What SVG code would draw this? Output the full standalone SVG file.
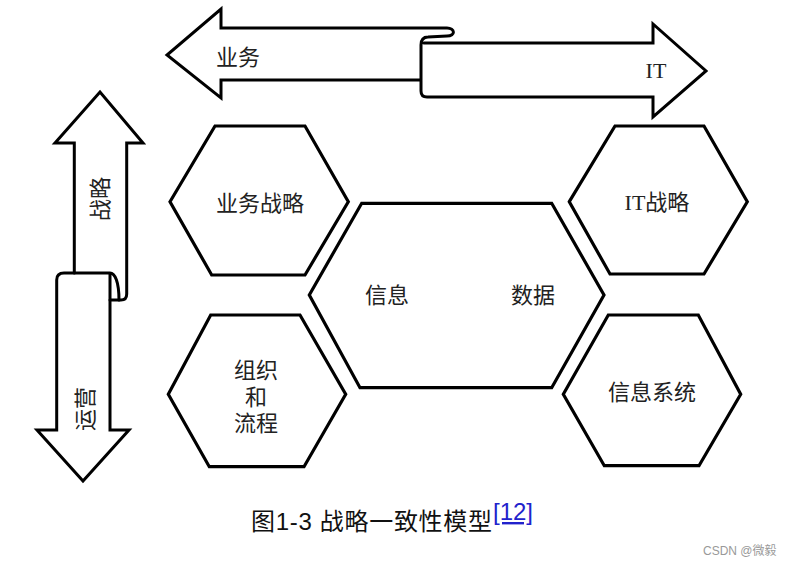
<svg xmlns="http://www.w3.org/2000/svg" width="786" height="565" viewBox="0 0 786 565">
<style>
.ln{fill:none;stroke:#000;stroke-width:3;stroke-linejoin:miter;stroke-linecap:round}
.hex{fill:#fff;stroke:#000;stroke-width:3.2;stroke-linejoin:miter}
.t{font-family:"Liberation Serif","Noto Sans CJK SC",serif;font-size:22px;fill:#222;text-anchor:middle;dominant-baseline:central}
.cap{font-family:"Liberation Sans","Noto Sans CJK SC",sans-serif;font-size:24px;fill:#111}
</style>
<rect width="786" height="565" fill="#fff"/>
<g id="connectors">
<g id="arrow-business-it">
<path class="ln" d="M421,80 L221,80 L221,98 L167,55 L221,9 L221,28 L447,28 C455,28 456,36 447,36 L428,37 C422,37 421,41 421,45 L421,91 Q421,97 427,97 L653,97 L653,117 L706,71 L653,24 L653,43 L424,43"/>
<text class="t" x="238" y="57">业务</text>
<text class="t" x="656" y="70">IT</text>
</g>
<g id="arrow-strategy-ops">
<path class="ln" d="M74.3,273 L74.3,143 L55,143 L100,92 L143,143 L126.7,143 L126.7,294 Q126.7,300 121,300 L110,300"/>
<path class="ln" d="M110,273 L110,430 L129,430 L83,481 L37,430 L56.7,430 L56.7,280 Q56.7,273 64,273 L110,273 C115,273 119,282 119,300"/>
<text class="t" transform="translate(100,199) rotate(-90)">战略</text>
<text class="t" transform="translate(85,409) rotate(-90)">运营</text>
</g>
</g>
<g id="node-business-strategy">
<polygon class="hex" points="170,201.7 215,126 305,126 348.3,201.7 305,275 211.7,275"/>
<text class="t" x="260" y="203">业务战略</text>
</g>
<g id="node-it-strategy">
<polygon class="hex" points="569.3,201.7 615,126 704,126 747.3,201.7 704,274 610,274"/>
<text class="t" x="657" y="202">IT战略</text>
</g>
<g id="node-info-data">
<polygon class="hex" points="309.3,295 361.7,203.3 551.7,203.3 604,295 551.7,387.7 360,387.7"/>
<text class="t" x="387" y="295">信息</text>
<text class="t" x="533" y="295">数据</text>
</g>
<g id="node-org-process">
<polygon class="hex" points="168.3,394.3 210.7,315 300,315 345.7,394.3 304,466.7 209.3,466.7"/>
<text class="t" x="256" y="370">组织</text>
<text class="t" x="256" y="397">和</text>
<text class="t" x="256" y="423">流程</text>
</g>
<g id="node-info-system">
<polygon class="hex" points="563.3,394.3 608.3,315 698.3,315 740.7,394.3 699,465.7 604.3,465.7"/>
<text class="t" x="652" y="392">信息系统</text>
</g>
<g id="caption">
<text class="cap" x="251" y="530" textLength="241" lengthAdjust="spacing">图1-3 战略一致性模型</text>
<text class="cap" x="493" y="520" fill="#2222cc" style="fill:#2222cc" text-decoration="underline">[12]</text>
<text x="703" y="555" font-family="'Liberation Sans','Noto Sans CJK SC',sans-serif" font-size="12" fill="#999">CSDN @微毅</text>
</g>
</svg>
